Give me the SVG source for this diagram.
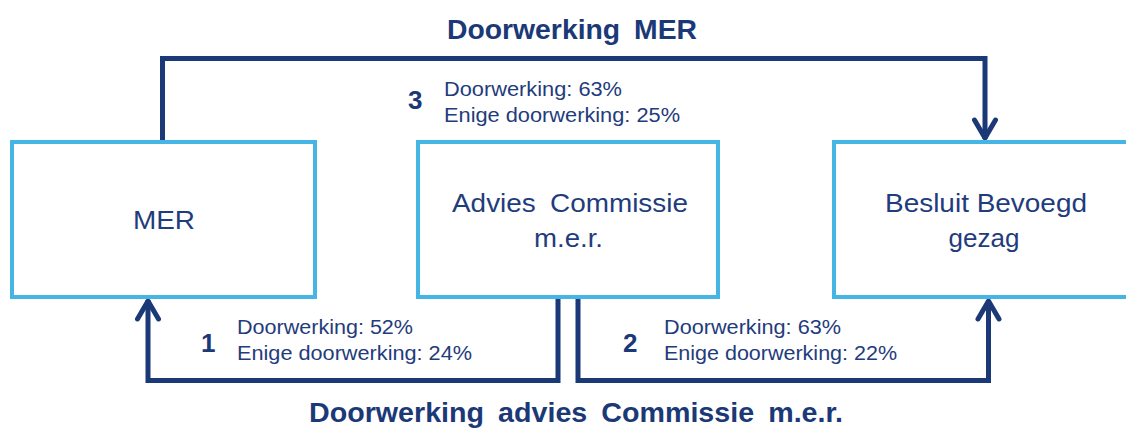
<svg xmlns="http://www.w3.org/2000/svg" width="1126" height="428" viewBox="0 0 1126 428">
  <style>
    .box { fill: #ffffff; stroke: #45b5e5; stroke-width: 4; }
    .conn { fill: none; stroke: #1c3977; stroke-width: 5; stroke-linejoin: miter; }
    .t { font-family: "Liberation Sans", Arial, sans-serif; fill: #1f3c7c; }
    .title { font-size: 28px; font-weight: bold; fill: #1c3977; word-spacing: 6px; }
    .num { font-size: 26px; font-weight: bold; fill: #1c3977; }
    .lbl { font-size: 20px; }
    .node { font-size: 26px; }
  </style>
  <defs>
    <marker id="arrow" markerUnits="userSpaceOnUse" markerWidth="40" markerHeight="40" viewBox="-30 -20 40 40" refX="0" refY="0" orient="auto" overflow="visible">
      <path d="M-19,-10.5 L-1,0 L-19,10.5" fill="none" stroke="#1c3977" stroke-width="5" stroke-linecap="round" stroke-linejoin="round"/>
    </marker>
  </defs>

  <g id="connectors">
    <path id="c3" class="conn" d="M162.5,142 V58.5 H985 V139" marker-end="url(#arrow)"/>
    <path id="c1" class="conn" d="M558,297 V380.5 H148 V300" marker-end="url(#arrow)"/>
    <path id="c2" class="conn" d="M578,297 V380.5 H988.5 V300" marker-end="url(#arrow)"/>
  </g>

  <g id="node-mer">
    <rect class="box" x="12" y="142" width="303" height="155"/>
    <text class="t node" x="164" y="229" text-anchor="middle" textLength="62" lengthAdjust="spacingAndGlyphs">MER</text>
  </g>

  <g id="node-commissie">
    <rect class="box" x="418" y="142" width="300" height="155"/>
    <text class="t node" x="452" y="212" word-spacing="6" textLength="236" lengthAdjust="spacingAndGlyphs">Advies Commissie</text>
    <text class="t node" x="534" y="247" textLength="69" lengthAdjust="spacingAndGlyphs">m.e.r.</text>
  </g>

  <g id="node-besluit">
    <rect class="box" x="834" y="142" width="304" height="155"/>
    <text class="t node" x="885" y="212" textLength="202" lengthAdjust="spacingAndGlyphs">Besluit Bevoegd</text>
    <text class="t node" x="984" y="247" text-anchor="middle">gezag</text>
  </g>

  <g id="labels">
    <text class="t title" x="447" y="39" textLength="250" lengthAdjust="spacingAndGlyphs">Doorwerking MER</text>

    <text class="t num" x="408" y="109">3</text>
    <text class="t lbl" x="444" y="96" textLength="178" lengthAdjust="spacingAndGlyphs">Doorwerking: 63%</text>
    <text class="t lbl" x="444" y="122" textLength="236" lengthAdjust="spacingAndGlyphs">Enige doorwerking: 25%</text>

    <text class="t num" x="201" y="352">1</text>
    <text class="t lbl" x="237" y="334" textLength="176" lengthAdjust="spacingAndGlyphs">Doorwerking: 52%</text>
    <text class="t lbl" x="237" y="360" textLength="235" lengthAdjust="spacingAndGlyphs">Enige doorwerking: 24%</text>

    <text class="t num" x="623" y="352">2</text>
    <text class="t lbl" x="664" y="334" textLength="177" lengthAdjust="spacingAndGlyphs">Doorwerking: 63%</text>
    <text class="t lbl" x="664" y="360" textLength="233" lengthAdjust="spacingAndGlyphs">Enige doorwerking: 22%</text>

    <text class="t title" x="309" y="421.5" textLength="534" lengthAdjust="spacingAndGlyphs">Doorwerking advies Commissie m.e.r.</text>
  </g>
</svg>
